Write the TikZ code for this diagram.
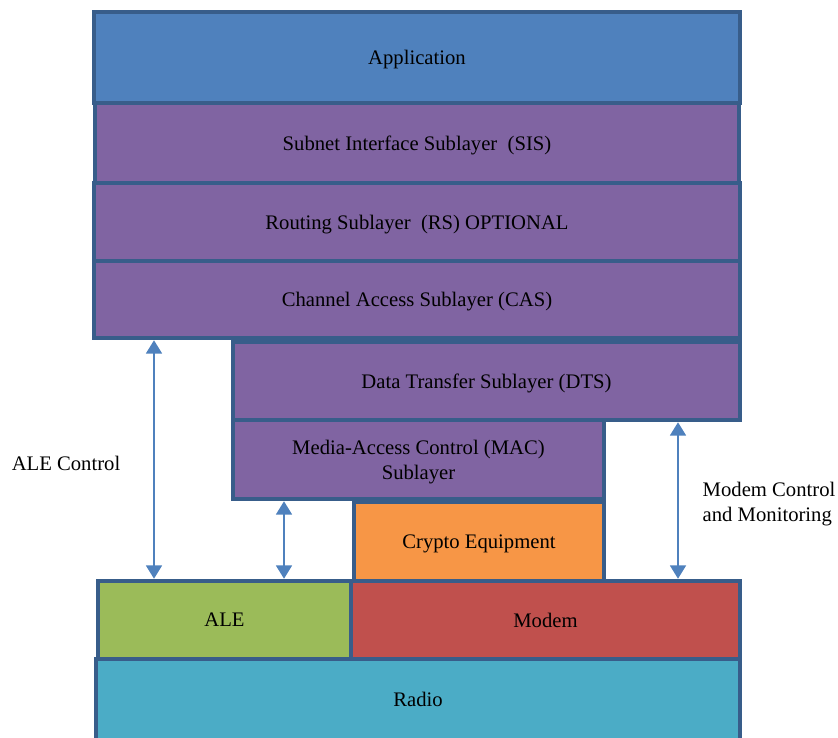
\documentclass[tikz,border=0pt]{standalone}
\usepackage{fontspec}
\setmainfont{Liberation Serif}
\usetikzlibrary{arrows.meta}
\definecolor{edgeblue}{HTML}{385D8A}
\definecolor{appblue}{HTML}{4F81BD}
\definecolor{subpurple}{HTML}{8064A2}
\definecolor{cryptoorange}{HTML}{F79646}
\definecolor{alegreen}{HTML}{9BBB59}
\definecolor{modemred}{HTML}{C0504D}
\definecolor{radioteal}{HTML}{4BACC6}
\tikzset{
  layer/.style={draw=edgeblue, line width=3.4pt, inner sep=0pt, align=center,
    text depth=0pt, font=\fontsize{15.5}{18.5}\selectfont},
  link/.style={draw=appblue, line width=1.2pt, {Triangle[width=12pt,length=10pt]}-{Triangle[width=12pt,length=10pt]}},
  note/.style={font=\fontsize{15.5}{19}\selectfont}
}
\begin{document}
\begin{tikzpicture}[x=0.75pt,y=-0.75pt]
   \useasboundingbox (0,0) rectangle (838,738);
   % protocol stack
   \node [layer, fill=appblue, minimum width=484.5pt, minimum height=68.25pt] (app) at (417,57.5) {Application};
   \node [layer, fill=subpurple, minimum width=483pt, minimum height=60pt] (sis) at (417,143) {Subnet Interface Sublayer\ \ (SIS)};
   \node [layer, fill=subpurple, minimum width=484.5pt, minimum height=58.5pt] (rs) at (417,222) {Routing Sublayer\ \ (RS) OPTIONAL};
   \node [layer, fill=subpurple, minimum width=484.5pt, minimum height=57.75pt] (cas) at (417,299.5) {Channel Access Sublayer (CAS)};
   \node [layer, fill=subpurple, minimum width=380.25pt, minimum height=58.5pt] (dts) at (486.5,381) {Data Transfer Sublayer (DTS)};
   \node [layer, fill=subpurple, minimum width=278.25pt, minimum height=59.25pt] (mac) at (418.5,459.5) {Media-Access Control (MAC)\\Sublayer};
   \node [layer, fill=cryptoorange, minimum width=187.5pt, minimum height=59.25pt] (crypto) at (479,541.5) {Crypto Equipment};
   \node [layer, fill=radioteal, minimum width=483pt, minimum height=60.75pt] (radio) at (418,699.5) {Radio};
   \node [layer, fill=alegreen, minimum width=189.75pt, minimum height=58.5pt] (ale) at (224.5,620) {ALE};
   \node [layer, fill=modemred, minimum width=291.75pt, minimum height=58.5pt] (modem) at (545.5,620) {Modem};
   % control links
   \coordinate (c1) at (154,0);
   \coordinate (c2) at (284,0);
   \coordinate (c3) at (678,0);
   \draw [link] (c1 |- cas.south) -- (c1 |- ale.north);
   \draw [link] (c2 |- mac.south) -- (c2 |- ale.north);
   \draw [link] (c3 |- dts.south) -- (c3 |- modem.north);
   \node [note] (alectl) at (66,463) {ALE Control};
   \node [note, anchor=west, align=left] (modemctl) at (698,504) {Modem Control\\and Monitoring};
\end{tikzpicture}
\end{document}
